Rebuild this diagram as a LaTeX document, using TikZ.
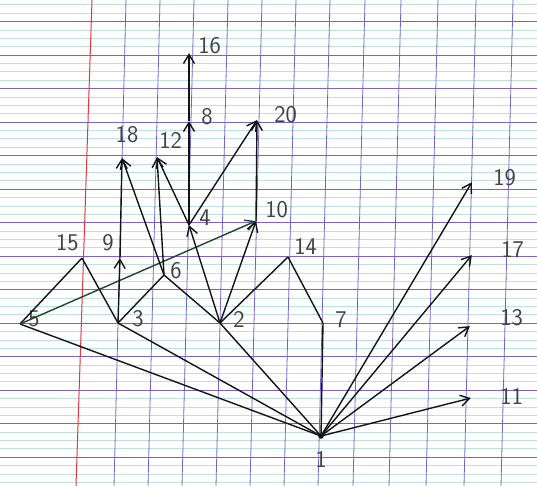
\documentclass[tikz,border=0pt]{standalone}
\usepackage[dvipsnames,svgnames,x11names]{xcolor}
\usepackage{tikz}
\usetikzlibrary{arrows.meta,positioning}

\definecolor{rulepurple}{RGB}{120,100,200}
\definecolor{ruleteal}{RGB}{190,225,222}
\definecolor{marginred}{RGB}{228,55,65}
\definecolor{ink}{RGB}{20,20,20}
\definecolor{greenink}{RGB}{30,70,48}

\begin{document}
\begin{tikzpicture}[x=1pt, y=-1pt, >={Straight Barb[length=9pt,width=11pt]},
    vertex/.style={inner sep=0pt, minimum size=0pt},
    num/.style={inner sep=1pt, font=\sffamily\fontsize{24}{26}\selectfont, text=ink!80},
    edge/.style={ink, line width=1.4pt},
    arc/.style={ink, line width=1.4pt, ->}]

  \useasboundingbox (0,0) rectangle (537,486);

  % ruled paper
  \fill[white] (0,0) rectangle (537,486);
  \foreach \k in {-10,...,4}
    \foreach \s in {1,2,3}
      \draw[ruleteal, line width=0.6pt] (0,{323+33.5*\k+8.4*\s}) -- (537,{323+33.5*\k+8.4*\s});
  \foreach \k in {-9,...,4}
    \draw[rulepurple, line width=0.8pt] (0,{323+33.5*\k}) -- (537,{323+33.5*\k});
  \foreach \x in {126,160,194,228,262,296,330,365,401,438,476,513}
    \draw[rulepurple, line width=0.8pt] (\x,0) -- (\x-12,486);
  \draw[marginred, line width=1pt] (92,0) -- (76,486);

  % numbers
  \node[vertex] (n1) at (321,436) {};
  \node[vertex] (n2) at (220,323) {};
  \node[vertex] (n3) at (118,323) {};
  \node[vertex] (n4) at (189,225) {};
  \node[vertex] (n5) at (20,324) {};
  \node[vertex] (n6) at (164,275) {};
  \node[vertex] (n7) at (323,323) {};
  \node[vertex] (n8) at (189,121) {};
  \node[vertex] (n9) at (120,258) {};
  \node[vertex] (n10) at (256,221) {};
  \node[vertex] (n11) at (471,398) {};
  \node[vertex] (n12) at (157,157) {};
  \node[vertex] (n13) at (470,326) {};
  \node[vertex] (n14) at (288,257) {};
  \node[vertex] (n15) at (82,258) {};
  \node[vertex] (n16) at (189,53) {};
  \node[vertex] (n17) at (472,255) {};
  \node[vertex] (n18) at (122,158) {};
  \node[vertex] (n19) at (472,182) {};
  \node[vertex] (n20) at (257,120) {};
  \fill[ink] (n1) circle (2.8pt);

  % labels
  \node[num, below=14pt of n1] (t1) {1};
  \node[num, right=7pt of n5, yshift=5pt] (t5) {5};
  \node[num, right=13pt of n3, yshift=4pt] (t3) {3};
  \node[num, right=12pt of n2, yshift=4pt] (t2) {2};
  \node[num, right=11pt of n7, yshift=3pt] (t7) {7};
  \node[num, above left=6pt and 2pt of n15] (t15) {15};
  \node[num, above left=6pt and 5pt of n9] (t9) {9};
  \node[num, right=5pt of n6, yshift=4pt] (t6) {6};
  \node[num, above right=1pt and 5pt of n14] (t14) {14};
  \node[num, right=9pt of n4, yshift=7pt] (t4) {4};
  \node[num, above right=2pt and 8pt of n10] (t10) {10};
  \node[num, above right=7pt and 1pt of n12] (t12) {12};
  \node[num, above=14pt of n18, xshift=5pt] (t18) {18};
  \node[num, right=11pt of n8, yshift=4pt] (t8) {8};
  \node[num, right=8pt of n16, yshift=7pt] (t16) {16};
  \node[num, right=16pt of n20, yshift=5pt] (t20) {20};
  \node[num, right=20pt of n19, yshift=4pt] (t19) {19};
  \node[num, right=28pt of n17, yshift=5pt] (t17) {17};
  \node[num, right=29pt of n13, yshift=8pt] (t13) {13};
  \node[num, right=28pt of n11, yshift=2pt] (t11) {11};

  % links
  \draw[edge] (n1) -- (n5);
  \draw[edge] (n1) -- (n3);
  \draw[edge] (n1) -- (n2);
  \draw[edge] (n1) -- (n7);
  \draw[arc] (n1) -- (n19);
  \draw[arc] (n1) -- (n17);
  \draw[arc] (n1) -- (n13);
  \draw[arc] (n1) -- (n11);
  \draw[edge] (n5) -- (n15);
  \draw[edge] (n15) -- (n3);
  \draw[arc, greenink] (n5) -- (n10);
  \draw[arc] (n3) -- (n9);
  \draw[arc] (n9) -- (n18);
  \draw[edge] (n3) -- (n6);
  \draw[edge] (n6) -- (n2);
  \draw[arc] (n6) -- (n18);
  \draw[arc] (n6) -- (n12);
  \draw[arc] (n2) -- (n4);
  \draw[arc] (n2) -- (n10);
  \draw[edge] (n2) -- (n14);
  \draw[edge] (n14) -- (n7);
  \draw[arc] (n4) -- (n12);
  \draw[arc] (n4) -- (n8);
  \draw[arc] (n8) -- (n16);
  \draw[arc] (n4) -- (n20);
  \draw[arc] (n10) -- (n20);
\end{tikzpicture}
\end{document}
